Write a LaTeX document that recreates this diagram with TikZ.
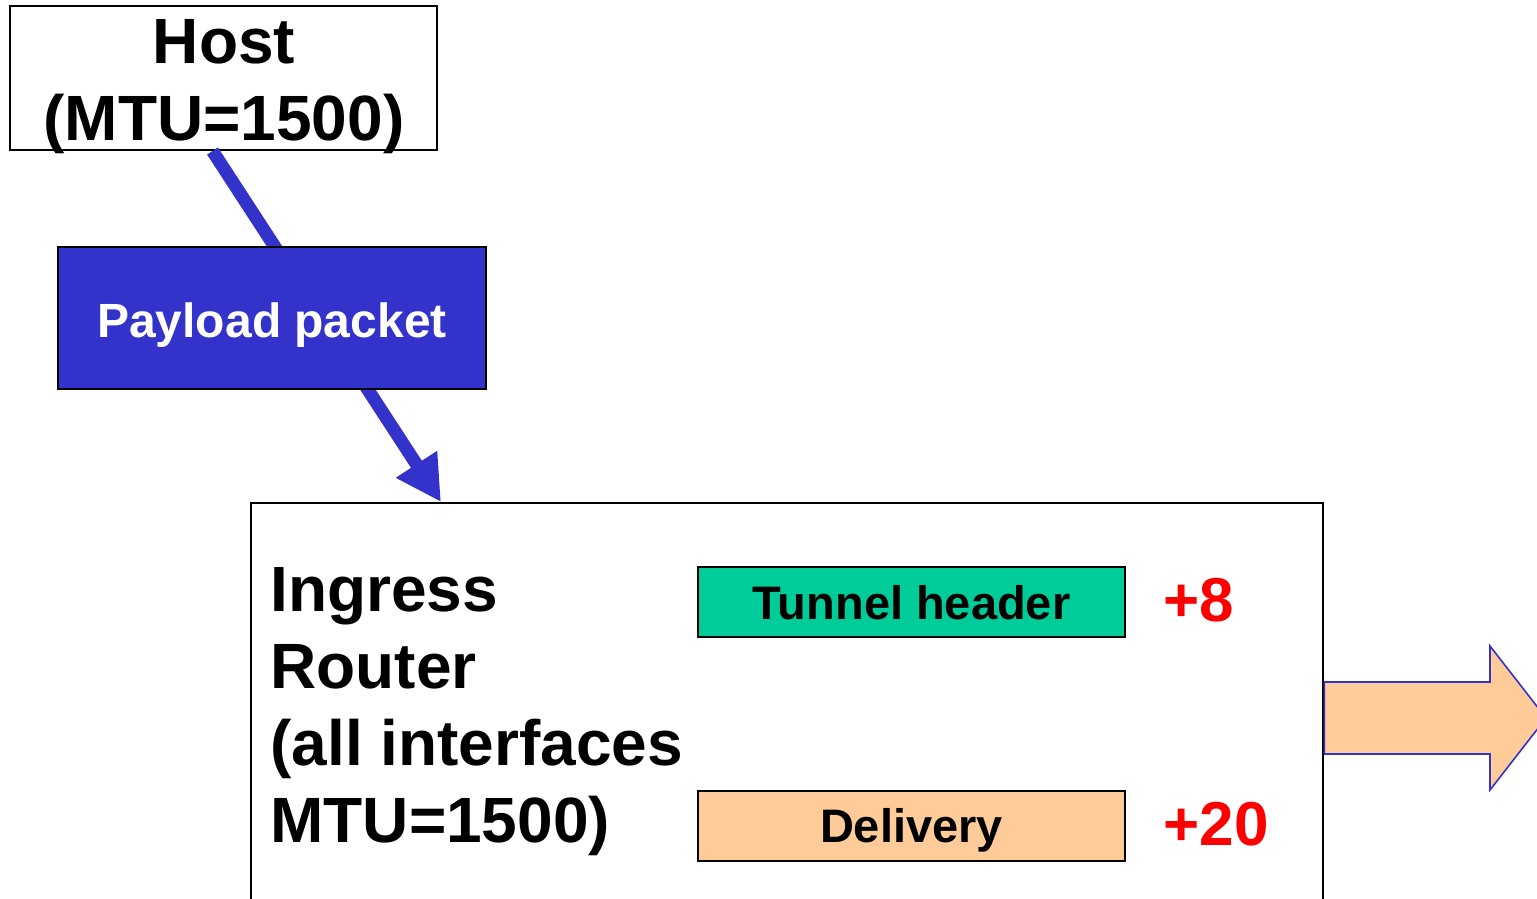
\documentclass[tikz,border=0pt]{standalone}
\usepackage{fontspec}
\setmainfont{Liberation Sans}
\usetikzlibrary{arrows.meta,calc}
\definecolor{pktblue}{HTML}{3333CC}
\definecolor{hdrgreen}{HTML}{00CC99}
\definecolor{peach}{HTML}{FFCC99}
\definecolor{plusred}{HTML}{FF0000}
\tikzset{
  outline/.style={draw=black,line width=1pt,inner sep=0pt},
  bigtext/.style={font=\fontsize{32}{38.5}\selectfont\bfseries,inner sep=0pt},
  hdrbox/.style={outline,minimum width=213.5pt,minimum height=35pt,
    font=\fontsize{23.5}{28}\selectfont\bfseries,text height=17pt,text depth=0pt},
  gain/.style={font=\fontsize{31}{36}\selectfont\bfseries,text=plusred,inner sep=0pt,anchor=base west},
  flow/.style={draw=pktblue,line width=6.5pt,-{Triangle[length=22.5pt,width=23pt]}},
}
\begin{document}
\begin{tikzpicture}[x=0.5pt,y=-0.5pt]
\useasboundingbox (0,0) rectangle (1537,899);

% host and its label
\node[outline,minimum width=213.5pt,minimum height=72pt] (host) at (223.5,78) {};
\node[bigtext,align=center,anchor=north] (hostlabel) at (224,19) {Host\\(MTU=1500)};

% ingress router (runs off the bottom edge)
\node[outline,line width=1.2pt,minimum width=536pt,minimum height=250pt,anchor=north west] (router) at (250,502) {};
\node[bigtext,align=left,anchor=north west] (routerlabel) at (270,567) {Ingress\\Router\\(all interfaces\\MTU=1500)};

% packet path from host into the router
\draw[flow] ($(host.south)+(-11,0)$) -- ($(router.north west)+(191,0)$);

% payload packet on the path
\node[outline,fill=pktblue,minimum width=214pt,minimum height=71pt,
  font=\fontsize{24}{29}\selectfont\bfseries,text=white,text height=19pt,text depth=0pt] (payload) at (272,318) {Payload packet};

% headers added by encapsulation
\node[hdrbox,fill=hdrgreen] (tunnel) at (911.5,602) {Tunnel header};
\node[hdrbox,fill=peach] (delivery) at (911.5,825.5) {Delivery};
\node[gain] (plus8) at (1163,621) {+8};
\node[gain] (plus20) at (1163,845) {+20};

% outgoing block arrow
\draw[draw=pktblue,line width=0.8pt,fill=peach,line join=miter]
  (router.east |- 0,682) -- (1490,682) -- (1490,646) -- (1546,718)
  -- (1490,790) -- (1490,754) -- (router.east |- 0,754) -- cycle;
\end{tikzpicture}
\end{document}
